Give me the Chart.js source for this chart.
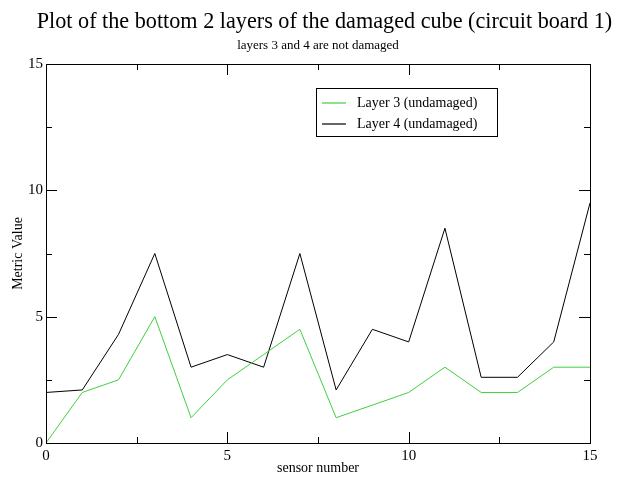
<!DOCTYPE html>
<html>
<head>
<meta charset="utf-8">
<script src="https://cdn.jsdelivr.net/npm/chart.js@4"></script>
<style>
  html, body { margin: 0; padding: 0; background: #fff; }
  #wrap { width: 619px; height: 483px; }
</style>
</head>
<body>
<div id="wrap"><canvas id="chart" width="619" height="483"></canvas></div>
<script>
const sensors = [0, 1, 2, 3, 4, 5, 6, 7, 8, 9, 10, 11, 12, 13, 14, 15];
const layer3 = [0, 2.0, 2.5, 5.0, 1.0, 2.5, 3.5, 4.5, 1.0, 1.5, 2.0, 3.0, 2.0, 2.0, 3.0, 3.0];
const layer4 = [2.0, 2.1, 4.3, 7.5, 3.0, 3.5, 3.0, 7.5, 2.1, 4.5, 4.0, 8.5, 2.6, 2.6, 4.0, 9.5];
const seriesLabels = ['Layer 3 (undamaged)', 'Layer 4 (undamaged)'];
const seriesColors = ['#3fcf3f', '#000000'];

const titleText = 'Plot of the bottom 2 layers of the damaged cube (circuit board 1)';
const subtitleText = 'layers 3 and 4 are not damaged';
const serif = '"Liberation Serif", "DejaVu Serif", serif';

const toPoints = values => sensors.map((s, i) => ({ x: s, y: values[i] }));

// frame, inward ticks on all four sides, titles and the boxed legend
const frameAndText = {
    id: 'frameAndText',
    afterDraw(chart) {
        const ctx = chart.ctx;
        const area = chart.chartArea;
        const xs = chart.scales.x;
        const ys = chart.scales.y;

        ctx.save();
        ctx.strokeStyle = '#000';
        ctx.lineWidth = 1;
        ctx.strokeRect(area.left + 0.5, area.top + 0.5, area.right - area.left, area.bottom - area.top);

        ctx.beginPath();
        for (let v = 0; v <= 15; v += 2.5) {
            const len = v % 5 === 0 ? 11 : 6;
            const px = Math.round(xs.getPixelForValue(v)) + 0.5;
            ctx.moveTo(px, area.bottom);
            ctx.lineTo(px, area.bottom - len);
            ctx.moveTo(px, area.top);
            ctx.lineTo(px, area.top + len);
            const py = Math.round(ys.getPixelForValue(v)) + 0.5;
            ctx.moveTo(area.left, py);
            ctx.lineTo(area.left + len, py);
            ctx.moveTo(area.right, py);
            ctx.lineTo(area.right - len, py);
        }
        ctx.stroke();

        // titles
        ctx.fillStyle = '#000';
        ctx.textAlign = 'center';
        ctx.textBaseline = 'middle';
        ctx.font = '22.2px ' + serif;
        ctx.fillText(titleText, 324.5, 22);
        ctx.font = '13px ' + serif;
        ctx.fillText(subtitleText, 318, 46);

        // legend box
        const lx = 316, ly = 88, lw = 181, lh = 48;
        ctx.strokeRect(lx + 0.5, ly + 0.5, lw, lh);
        ctx.font = '14px ' + serif;
        ctx.textAlign = 'left';
        chart.data.datasets.forEach((ds, i) => {
            const y = ly + 15 + i * 21;
            ctx.strokeStyle = ds.borderColor;
            ctx.lineWidth = 1.2;
            ctx.beginPath();
            ctx.moveTo(lx + 6, y);
            ctx.lineTo(lx + 30, y);
            ctx.stroke();
            ctx.fillText(ds.label, lx + 41, y);
        });
        ctx.restore();
    }
};

new Chart(document.getElementById('chart'), {
    type: 'line',
    data: {
        datasets: [
            {
                label: seriesLabels[0],
                data: toPoints(layer3),
                borderColor: seriesColors[0],
                borderWidth: 1,
                pointRadius: 0,
                tension: 0
            },
            {
                label: seriesLabels[1],
                data: toPoints(layer4),
                borderColor: seriesColors[1],
                borderWidth: 1,
                pointRadius: 0,
                tension: 0
            }
        ]
    },
    options: {
        responsive: false,
        animation: false,
        layout: { padding: { top: 64, right: 29, left: 0, bottom: 0 } },
        plugins: {
            legend: { display: false },
            tooltip: { enabled: false }
        },
        scales: {
            x: {
                type: 'linear',
                min: 0,
                max: 15,
                grid: { display: false, drawTicks: false },
                border: { display: false },
                ticks: {
                    stepSize: 5,
                    color: '#000',
                    font: { family: serif, size: 15 },
                    padding: 4,
                    maxRotation: 0
                },
                title: {
                    display: true,
                    text: 'sensor number',
                    color: '#000',
                    font: { family: serif, size: 14 },
                    padding: { top: 0, bottom: 6 }
                },
                afterFit: scale => { scale.height = 40; }
            },
            y: {
                min: 0,
                max: 15,
                grid: { display: false, drawTicks: false },
                border: { display: false },
                ticks: {
                    stepSize: 5,
                    color: '#000',
                    font: { family: serif, size: 15 },
                    padding: 3
                },
                title: {
                    display: true,
                    text: 'Metric Value',
                    color: '#000',
                    font: { family: serif, size: 14 },
                    padding: { top: 10, bottom: 0 }
                },
                afterFit: scale => { scale.width = 46; }
            }
        }
    },
    plugins: [frameAndText]
});
</script>
</body>
</html>
